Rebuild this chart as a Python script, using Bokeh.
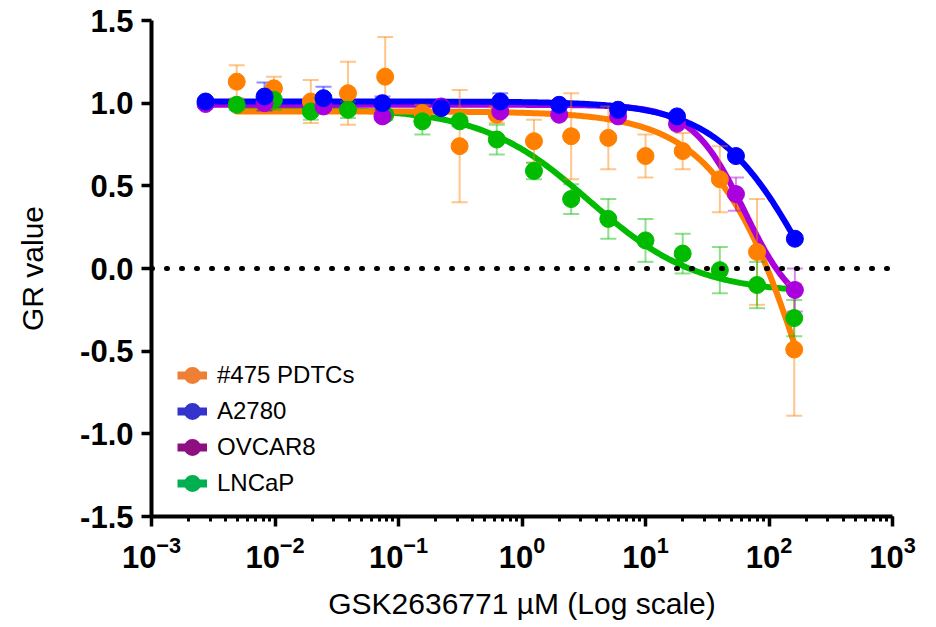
import numpy as np
from bokeh.plotting import figure
from bokeh.models import (Range1d, FixedTicker, NumeralTickFormatter, Span, Legend,
                          LegendItem, ColumnDataSource, LogTicker)
from bokeh.embed import file_html
from bokeh.resources import INLINE

# ---- data ----
series_names = ["#475 PDTCs", "A2780", "OVCAR8", "LNCaP"]

dose_pdtc = [0.0049, 0.0098, 0.0195, 0.039, 0.078, 0.156, 0.3125, 0.625,
             1.25, 2.5, 5, 10, 20, 40, 80, 160]
dose_cell = [0.00274, 0.00823, 0.0247, 0.0741, 0.222, 0.667, 2, 6, 18, 54, 162]

gr_475 = [1.13, 1.09, 1.01, 1.06, 1.16, 0.94, 0.74, 0.93, 0.77, 0.80, 0.79,
          0.68, 0.71, 0.54, 0.10, -0.49]
err_475 = [0.10, 0.07, 0.13, 0.19, 0.24, 0.05, 0.34, 0.05, 0.13, 0.26, 0.19,
           0.13, 0.11, 0.20, 0.32, 0.40]

gr_a2780 = [1.01, 1.04, 1.03, 1.00, 0.97, 1.01, 0.99, 0.96, 0.92, 0.68, 0.18]
err_a2780 = [0.02, 0.085, 0.07, 0.04, 0.02, 0.05, 0.02, 0.02, 0.02, 0.02, 0.02]

gr_ovcar8 = [0.995, 1.00, 0.98, 0.92, 0.98, 0.95, 0.93, 0.92, 0.875, 0.45, -0.13]
err_ovcar8 = [0.02, 0.02, 0.02, 0.02, 0.02, 0.02, 0.02, 0.02, 0.02, 0.10, 0.13]

gr_lncap = [0.99, 1.02, 0.95, 0.96, 0.93, 0.89, 0.89, 0.78, 0.59, 0.42, 0.30,
            0.17, 0.09, -0.01, -0.10, -0.30]
err_lncap = [0.03, 0.06, 0.05, 0.05, 0.03, 0.08, 0.03, 0.09, 0.05, 0.09, 0.12,
             0.13, 0.12, 0.14, 0.14, 0.11]

# fitted dose-response curve parameters (top, bottom, EC50, hill)
fit_top = [0.95, 1.01, 0.99, 0.97]
fit_bottom = [-3.0, -1.0, -0.3, -0.15]
fit_ec50 = [275.0, 219.0, 63.5, 3.5]
fit_hill = [1.1, 1.17, 2.03, 1.0]

y_ticks = [-1.5, -1.0, -0.5, 0.0, 0.5, 1.0, 1.5]

# ---- styles ----
point_colors = ["#FF8000", "#0000FF", "#AA00DD", "#00BB00"]
legend_colors = ["#EE8035", "#3434CC", "#8E1080", "#00B050"]
FONT = "Liberation Sans"

doses = [dose_pdtc, dose_cell, dose_cell, dose_pdtc]
values = [gr_475, gr_a2780, gr_ovcar8, gr_lncap]
errors = [err_475, err_a2780, err_ovcar8, err_lncap]

p = figure(width=934, height=626, x_axis_type="log",
           x_range=Range1d(1e-3, 1e3), y_range=Range1d(-1.5, 1.5),
           output_backend="svg", toolbar_location=None,
           min_border_left=151, min_border_right=42,
           min_border_top=20, min_border_bottom=110)
p.outline_line_color = None
p.xgrid.visible = False
p.ygrid.visible = False
p.background_fill_color = "white"
p.border_fill_color = "white"

# zero reference line (dotted)
p.add_layout(Span(location=0, dimension="width", line_color="black",
                  line_width=5, line_dash="1 14", line_cap="round"))

# fitted curves: LNCaP, #475, OVCAR8, A2780 (blue on top)
for i in [3, 0, 2, 1]:
    d = doses[i]
    xs = np.logspace(np.log10(d[0]), np.log10(d[-1]), 300)
    ys = fit_bottom[i] + (fit_top[i] - fit_bottom[i]) / (1 + (xs / fit_ec50[i]) ** fit_hill[i])
    p.line(xs, ys, line_color=point_colors[i], line_width=6, line_cap="round")

# error bars
for i in [0, 3, 2, 1]:
    v = np.array(values[i])
    e = np.array(errors[i])
    src = ColumnDataSource(dict(x=doses[i], lo=v - e, hi=v + e))
    p.segment(x0="x", y0="lo", x1="x", y1="hi", source=src,
              line_color=point_colors[i], line_alpha=0.45, line_width=2)
    p.scatter(x="x", y="hi", source=src, marker="dash", size=16,
              line_color=point_colors[i], line_alpha=0.45, line_width=2)
    p.scatter(x="x", y="lo", source=src, marker="dash", size=16,
              line_color=point_colors[i], line_alpha=0.45, line_width=2)

# points
for i in [0, 3, 2, 1]:
    p.scatter(doses[i], values[i], marker="circle", size=17,
              fill_color=point_colors[i], line_color=point_colors[i])

# legend (legend colors differ slightly from plot colors); renderers hold no visible point
items = []
for i, name in enumerate(series_names):
    lr = p.line([1.0], [float("nan")], line_color=legend_colors[i], line_width=8)
    sr = p.scatter([1.0], [float("nan")], marker="circle", size=17, line_width=5,
                   fill_color=legend_colors[i], line_color=legend_colors[i])
    items.append(LegendItem(label=name, renderers=[lr, sr]))
legend = Legend(items=items, location=(26, 15), orientation="vertical",
                background_fill_alpha=0, border_line_color=None,
                label_text_font=FONT, label_text_font_size="24px",
                label_text_color="black", glyph_width=30, glyph_height=36,
                label_height=36, label_standoff=10, spacing=0, padding=0, margin=0)
p.add_layout(legend, "center")

# axes
for ax in (p.xaxis[0], p.yaxis[0]):
    ax.axis_line_width = 4
    ax.axis_line_color = "black"
    ax.major_tick_line_width = 3.5
    ax.major_tick_line_color = "black"
    ax.major_tick_in = 0
    ax.major_tick_out = 10
    ax.major_label_text_font = FONT
    ax.major_label_text_font_style = "bold"
    ax.major_label_text_font_size = "31px"
    ax.major_label_text_color = "black"
    ax.axis_label_text_font = FONT
    ax.axis_label_text_font_style = "normal"
    ax.axis_label_text_font_size = "30px"
    ax.axis_label_text_color = "black"

p.yaxis.ticker = FixedTicker(ticks=y_ticks)
p.yaxis.formatter = NumeralTickFormatter(format="0.0")
p.yaxis.minor_tick_line_color = None
p.yaxis.major_label_standoff = 8
p.yaxis.axis_label = "GR value"
p.yaxis.axis_label_standoff = 28

p.xaxis.ticker = LogTicker(desired_num_ticks=7, num_minor_ticks=10)
p.xaxis.minor_tick_in = 0
p.xaxis.minor_tick_out = 5
p.xaxis.minor_tick_line_width = 3
p.xaxis.minor_tick_line_color = "black"
p.xaxis.major_label_standoff = 9
p.xaxis.axis_label = "GSK2636771 µM (Log scale)"
p.xaxis.axis_label_standoff = 16

open("out.html", "w").write(file_html(p, INLINE))
